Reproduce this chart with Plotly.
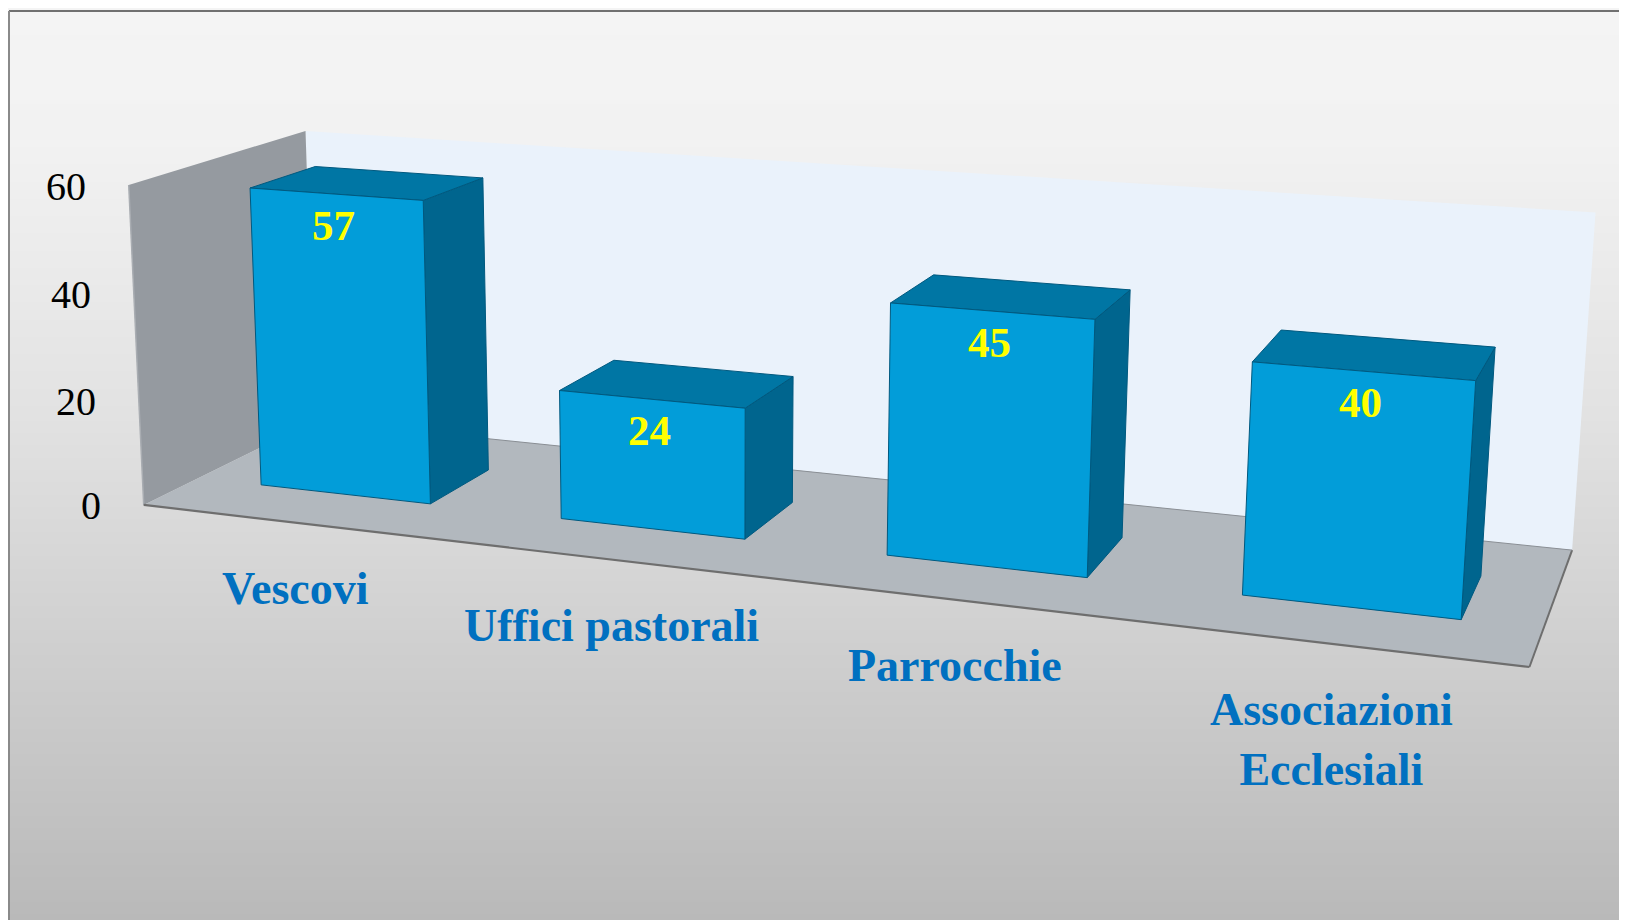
import numpy as np
import plotly.graph_objects as go

# ---------------- data ----------------
categories = ["Vescovi", "Uffici pastorali", "Parrocchie", "Associazioni<br>Ecclesiali"]
values = [57, 24, 45, 40]
tick_values = [0, 20, 40, 60]
tick_labels = ["0", "20", "40", "60"]

# ---------------- layout / camera ----------------
W_PX, H_PX = 1627, 920
BODY_MARGIN = 8          # default page margin of the html body
Y_MAX = 60
N_CAT = len(categories)
# scene corners (x-slot, value, depth) -> screen pixel, used to calibrate the 3D view
calib_world = [(0, 0, 0), (0, 60, 0), (0, 60, 1), (0, 0, 1), (4, 60, 1), (4, 0, 1), (4, 0, 0)]
calib_screen = [(147.7, 505), (125, 184), (309.3, 131.7), (311, 421), (1595, 212.7), (1573, 549), (1529, 668)]

BAR_X0, BAR_X1 = 0.218, 0.792   # bar extent inside its slot
BAR_Z0, BAR_Z1 = 0.30, 0.68     # bar extent in depth

def fit_camera():
    A = []
    for (X, Y, Z), (u, v) in zip(calib_world, calib_screen):
        w = np.array([X / N_CAT, Y / Y_MAX, Z, 1.0])
        u /= 1000; v /= 1000
        A.append(np.concatenate([w, np.zeros(4), -u * w]))
        A.append(np.concatenate([np.zeros(4), w, -v * w]))
    _, _, Vt = np.linalg.svd(np.array(A))
    return Vt[-1].reshape(3, 4)

M = fit_camera()

def proj(X, Y, Z):
    h = M @ np.array([X / N_CAT, Y / Y_MAX, Z, 1.0])
    return h[0] / h[2] * 1000, h[1] / h[2] * 1000

def poly(points3d):
    xs, ys = [], []
    for p in points3d:
        x, y = proj(*p)
        xs.append(x); ys.append(y)
    xs.append(xs[0]); ys.append(ys[0])
    return xs, ys

fig = go.Figure()

# background gradient
gy = np.linspace(0, H_PX, 93)
gz = [[t, t] for t in gy / H_PX]
fig.add_trace(go.Heatmap(
    x=[-5, W_PX + 5], y=gy, z=gz, zsmooth="best", showscale=False, hoverinfo="skip",
    colorscale=[[0, "#f4f4f4"], [0.15, "#f2f2f2"], [0.45, "#e2e2e2"], [1, "#b9b9b9"]],
    zmin=0, zmax=1))

def add_face(pts, fill, line="rgba(0,0,0,0)", lw=0):
    xs, ys = poly(pts)
    fig.add_trace(go.Scatter(x=xs, y=ys, mode="lines", fill="toself", fillcolor=fill,
                             line=dict(color=line, width=lw), hoverinfo="skip", showlegend=False))

def add_line(p, q, color, width):
    (x0, y0), (x1, y1) = proj(*p), proj(*q)
    fig.add_trace(go.Scatter(x=[x0, x1], y=[y0, y1], mode="lines", line=dict(color=color, width=width),
                             hoverinfo="skip", showlegend=False))

# walls and floor
add_face([(0, 0, 1), (N_CAT, 0, 1), (N_CAT, Y_MAX, 1), (0, Y_MAX, 1)], "#eaf2fb")
add_face([(0, 0, 0), (0, 0, 1), (0, Y_MAX, 1), (0, Y_MAX, 0)], "#959aa0")
add_face([(0, 0, 0), (N_CAT, 0, 0), (N_CAT, 0, 1), (0, 0, 1)], "#b2b8be")
add_line((0, 0, 0), (0, Y_MAX, 0), "#a9adb2", 1.5)
add_line((0, 0, 0), (N_CAT, 0, 0), "#6e6e6e", 2.2)
add_line((N_CAT, 0, 0), (N_CAT, 0, 1), "#6e6e6e", 2)
add_line((0, 0, 1), (N_CAT, 0, 1), "#8a8f95", 1)

# bars
EDGE = "#00597f"
for i, v in enumerate(values):
    x0, x1 = i + BAR_X0, i + BAR_X1
    z0, z1 = BAR_Z0, BAR_Z1
    add_face([(x1, 0, z0), (x1, 0, z1), (x1, v, z1), (x1, v, z0)], "#00658e", EDGE, 1)   # side
    add_face([(x0, v, z0), (x1, v, z0), (x1, v, z1), (x0, v, z1)], "#0076a4", EDGE, 1)   # top
    add_face([(x0, 0, z0), (x1, 0, z0), (x1, v, z0), (x0, v, z0)], "#029dd9", EDGE, 1)   # front

annotations = []
# value labels
for i, v in enumerate(values):
    lx, ly = proj(i + (BAR_X0 + BAR_X1) / 2, v, BAR_Z0)
    annotations.append(dict(x=lx - 2, y=ly + 31, xref="x", yref="y", text=f"<b>{v}</b>", showarrow=False,
                            xanchor="center", yanchor="middle",
                            font=dict(family="Liberation Serif", size=43, color="#ffff00")))
# y tick labels
for tv, tl in zip(tick_values, tick_labels):
    tx, ty = proj(0, tv, 0)
    annotations.append(dict(x=tx - 41, y=ty + 1, xref="x", yref="y", text=tl, showarrow=False,
                            xanchor="right", yanchor="middle",
                            font=dict(family="Liberation Serif", size=40, color="#000000")))
# category labels
for i, c in enumerate(categories):
    cx, cy = proj(i + 0.5, 0, 0)
    annotations.append(dict(x=cx + 4, y=cy + 39, xref="x", yref="y", text=f"<b>{c}</b>", showarrow=False,
                            xanchor="center", yanchor="top",
                            font=dict(family="Liberation Serif", size=46, color="#0070c0")))

shapes = [
    dict(type="line", xref="x", yref="y", x0=9, y0=11, x1=W_PX + 5, y1=11, line=dict(color="#707070", width=2)),
    dict(type="line", xref="x", yref="y", x0=9, y0=11, x1=9, y1=H_PX + 5, line=dict(color="#8a8a8a", width=2)),
]

# the figure is drawn in page pixel coordinates; compensate for the body margin
fig.update_layout(
    width=W_PX - BODY_MARGIN, height=H_PX - BODY_MARGIN, margin=dict(l=0, r=0, t=0, b=0),
    paper_bgcolor="#f4f4f4", plot_bgcolor="rgba(0,0,0,0)",
    xaxis=dict(range=[BODY_MARGIN, W_PX], visible=False, fixedrange=True),
    yaxis=dict(range=[H_PX, BODY_MARGIN], visible=False, fixedrange=True),
    showlegend=False, annotations=annotations, shapes=shapes,
)
fig.write_html("out.html", config={"displayModeBar": False})
